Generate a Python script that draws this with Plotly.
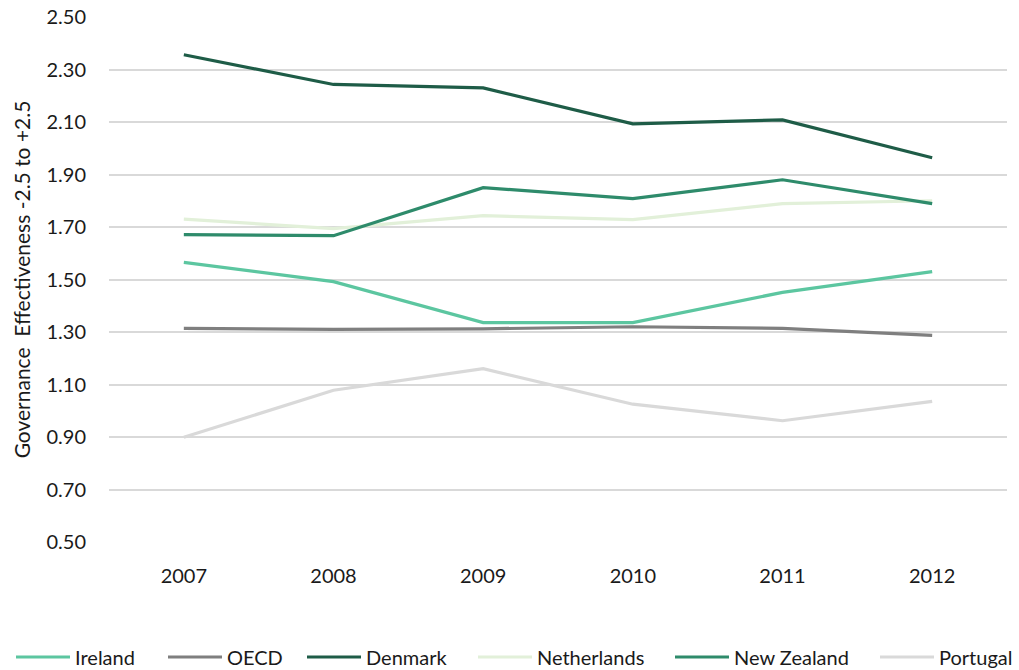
import plotly.graph_objects as go

years = ["2007", "2008", "2009", "2010", "2011", "2012"]
ireland = [1.565, 1.492, 1.336, 1.336, 1.451, 1.530]
oecd = [1.314, 1.310, 1.312, 1.320, 1.314, 1.287]
denmark = [2.356, 2.243, 2.230, 2.093, 2.108, 1.964]
netherlands = [1.730, 1.694, 1.743, 1.728, 1.789, 1.800]
new_zealand = [1.671, 1.667, 1.850, 1.808, 1.880, 1.789]
portugal = [0.899, 1.078, 1.160, 1.025, 0.962, 1.036]

series = [
    ("Ireland", ireland, "#5CC6A0"),
    ("OECD", oecd, "#7F7F7F"),
    ("Denmark", denmark, "#1E5C47"),
    ("Netherlands", netherlands, "#E2F0D9"),
    ("New Zealand", new_zealand, "#2E8B6B"),
    ("Portugal", portugal, "#D9D9D9"),
]

# legend layout (pixel positions of line start for each entry)
legend_x_px = [16, 168, 307, 478, 675, 880]
legend_y_px = 657
plot_l, plot_r, plot_t, plot_b = 109, 1007, 17, 542
W, H = 1019, 670

def px_to_paper_x(px):
    return (px - plot_l) / (plot_r - plot_l)

def px_to_paper_y(py):
    return (plot_b - py) / (plot_b - plot_t)

fig = go.Figure()
for name, vals, col in series:
    fig.add_trace(go.Scatter(x=years, y=vals, name=name, mode="lines",
                             line=dict(color=col, width=3.2), showlegend=False))

font = "Lato, 'Open Sans', sans-serif"
shapes = []
annotations = []
ly = px_to_paper_y(legend_y_px)
for (name, vals, col), lx in zip(series, legend_x_px):
    shapes.append(dict(type="line", xref="paper", yref="paper",
                       x0=px_to_paper_x(lx), x1=px_to_paper_x(lx + 54), y0=ly, y1=ly,
                       line=dict(color=col, width=3.2)))
    annotations.append(dict(xref="paper", yref="paper", x=px_to_paper_x(lx + 57), y=ly,
                            xanchor="left", yanchor="middle", text=name, showarrow=False,
                            font=dict(size=20, color="#1a1a1a")))

fig.update_layout(
    width=W, height=H,
    margin=dict(l=plot_l, r=W - plot_r, t=plot_t, b=H - plot_b, autoexpand=False),
    paper_bgcolor="white", plot_bgcolor="white",
    font=dict(family=font, size=20, color="#1a1a1a"),
    showlegend=False,
    shapes=shapes, annotations=annotations,
    xaxis=dict(type="category", range=[-0.5, 5.5], showgrid=False,
               showline=False, ticks="", tickfont=dict(size=20), ticklabelstandoff=20),
    yaxis=dict(range=[0.5, 2.5], tickvals=[0.5, 0.7, 0.9, 1.1, 1.3, 1.5, 1.7, 1.9, 2.1, 2.3, 2.5],
               tickformat=".2f", showgrid=True, gridcolor="#D9D9D9", gridwidth=1.5,
               zeroline=False, showline=False, ticks="", ticklabelstandoff=22,
               tickfont=dict(size=20),
               title=dict(text="Governance  Effectiveness -2.5 to +2.5", standoff=10,
                          font=dict(size=21))),
)
fig.write_html("out.html")
